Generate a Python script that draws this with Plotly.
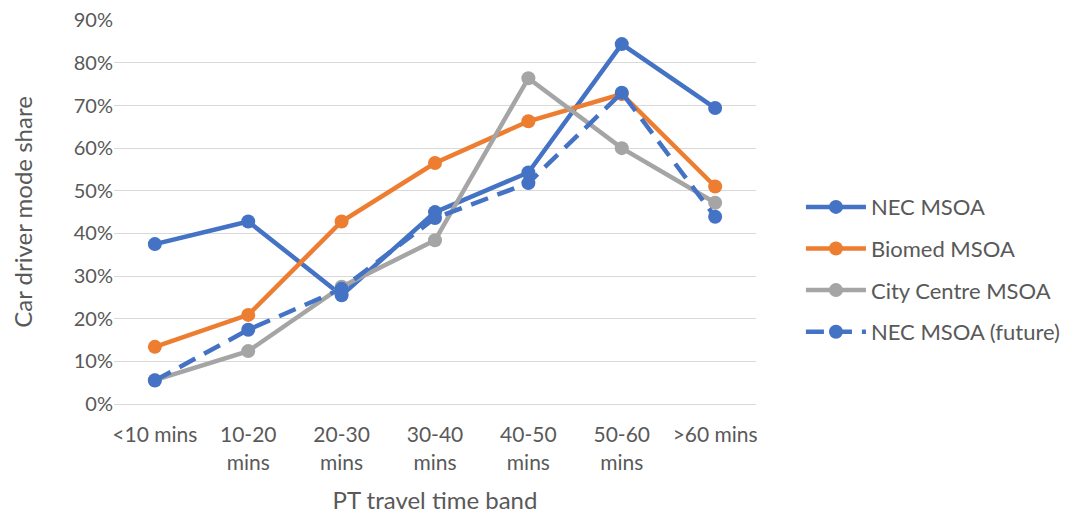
import plotly.graph_objects as go

categories = ["<10 mins", "10-20<br>mins", "20-30<br>mins", "30-40<br>mins", "40-50<br>mins", "50-60<br>mins", ">60 mins"]
nec = [37.5, 42.8, 25.5, 45.0, 54.3, 84.4, 69.4]
biomed = [13.4, 20.9, 42.8, 56.5, 66.3, 72.7, 51.0]
city = [5.6, 12.4, 27.5, 38.4, 76.4, 60.0, 47.2]
nec_future = [5.5, 17.4, 27.0, 43.6, 51.8, 73.0, 43.9]
y_ticks = [0, 10, 20, 30, 40, 50, 60, 70, 80, 90]

blue = "#4472C4"
orange = "#ED7D31"
grey = "#A5A5A5"

fig = go.Figure()
series = [
    ("NEC MSOA", nec, blue, "solid"),
    ("Biomed MSOA", biomed, orange, "solid"),
    ("City Centre MSOA", city, grey, "solid"),
    ("NEC MSOA (future)", nec_future, blue, "18px,10px"),
]
for name, vals, col, dash in series:
    fig.add_trace(go.Scatter(
        x=categories, y=vals, name=name, mode="lines+markers", legendgroup=name,
        line=dict(color=col, width=4.5, dash=dash),
        marker=dict(color=col, size=14, symbol="circle"),
    ))

font_family = "Lato, 'Open Sans', sans-serif"
fig.update_layout(
    width=1070, height=516,
    margin=dict(l=106, r=310, t=12, b=120),
    paper_bgcolor="white", plot_bgcolor="white",
    font=dict(family=font_family, size=21, color="#595959"),
    xaxis=dict(
        type="category", showgrid=False, showline=True, linecolor="#d9d9d9", linewidth=1,
        ticks="", tickfont=dict(size=21, color="#595959"), automargin=False,
        ticklabelstandoff=12,
        title=dict(text="PT travel time band", font=dict(size=24, color="#595959"), standoff=19),
    ),
    yaxis=dict(
        range=[0, 90.05], tickmode="array", tickvals=y_ticks,
        ticktext=[f"{v}%" for v in y_ticks], showgrid=True, gridcolor="#d9d9d9", gridwidth=1,
        zeroline=False, showline=False, ticks="", tickfont=dict(size=20, color="#595959"),
        automargin=False, ticklabeloverflow="allow",
        title=dict(text="Car driver mode share", font=dict(size=24, color="#595959"), standoff=41),
    ),
    legend=dict(
        x=1.07, xanchor="left", y=0.35, yanchor="middle",
        font=dict(size=22, color="#595959"), tracegroupgap=10, itemwidth=60,
    ),
    showlegend=True,
)

fig.write_html("out.html")
